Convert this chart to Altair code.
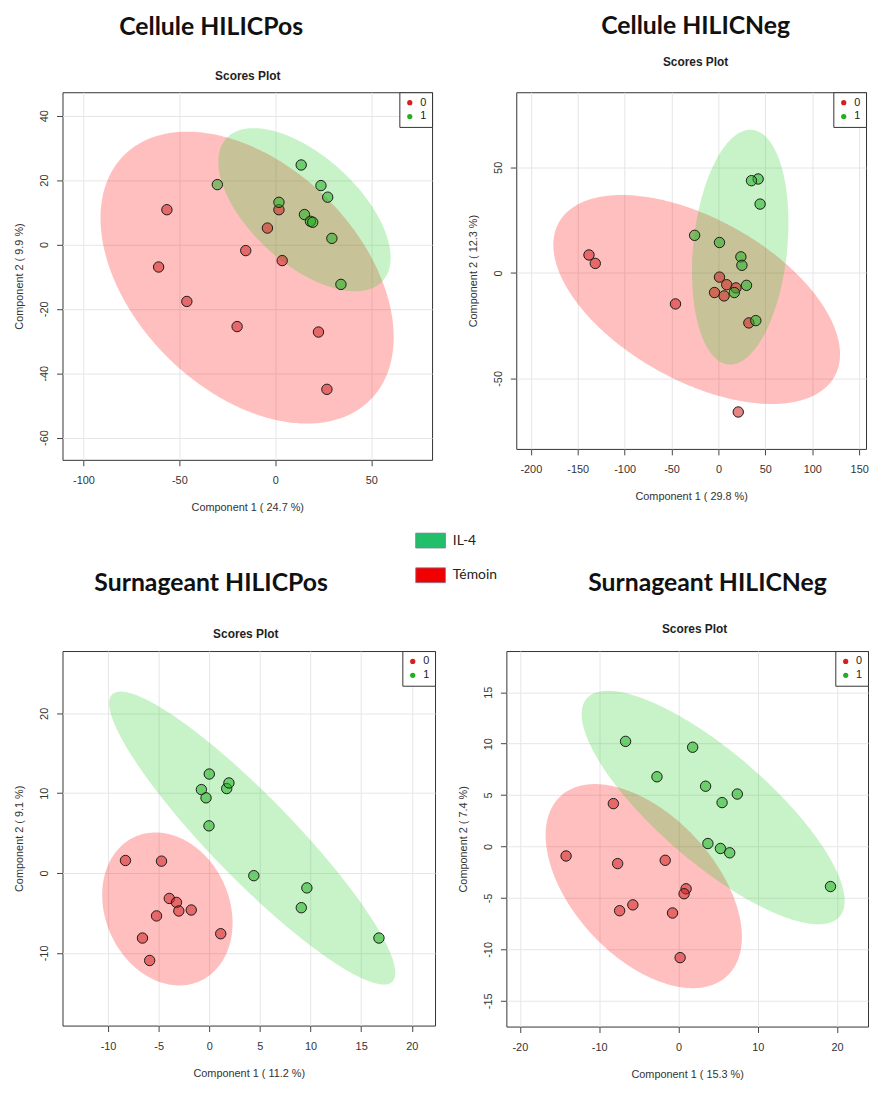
import altair as alt
import numpy as np
import pandas as pd

# ---------------- data ----------------
# Panel 1 : Cellule HILICPos
p1_red_x = [-56.5, -60.8, -46.1, -15.4, -19.9, -4.1, 1.9, 3.6, 22.5, 26.9]
p1_red_y = [10.8, -7.0, -17.7, -1.9, -25.5, 5.1, 10.8, -5.0, -27.2, -45.0]
p1_green_x = [-30.2, 1.9, 13.5, 23.8, 27.3, 15.2, 18.3, 19.5, 29.5, 34.2]
p1_green_y = [18.6, 13.1, 24.7, 18.3, 14.7, 9.3, 7.2, 6.9, 1.9, -12.4]
# ellipse: centre x, centre y, half x-extent, y-offset of rightmost point, half vertical chord
p1_ell_red = [-14.7, -10.3, 76.4, -18.5, 41.4]
p1_ell_green = [15.2, 10.8, 44.9, -14.9, 20.5]

# Panel 2 : Cellule HILICNeg
p2_red_x = [-138.0, -131.3, -45.8, 1.1, 8.8, -4.2, 6.0, 18.7, 32.4, 21.1]
p2_red_y = [8.5, 4.5, -14.7, -2.0, -5.6, -9.3, -10.9, -7.1, -23.7, -65.9]
p2_green_x = [42.3, 35.2, 44.4, -25.4, 1.1, 23.9, 25.0, 29.9, 16.9, 39.8]
p2_green_y = [44.5, 43.7, 32.6, 17.8, 14.4, 7.6, 3.6, -5.9, -9.3, -22.6]
p2_ell_red = [-23.2, -12.6, 152.8, -25.9, 42.2]
p2_ell_green = [23.2, 12.2, 51.4, 11.6, 54.4]

# Panel 3 : Surnageant HILICPos
p3_red_x = [-8.28, -4.72, -3.95, -3.24, -3.01, -1.78, -5.21, -6.60, -5.89, 1.13]
p3_red_y = [1.57, 1.49, -3.18, -3.68, -4.75, -4.63, -5.37, -8.14, -10.95, -7.60]
p3_green_x = [0.0, -0.78, -0.32, 1.72, 1.94, -0.03, 4.40, 9.64, 9.09, 16.76]
p3_green_y = [12.4, 10.45, 9.42, 10.58, 11.28, 5.91, -0.33, -1.86, -4.34, -8.14]
p3_ell_red = [-4.14, -4.50, 6.44, -1.74, 9.42]
p3_ell_green = [4.24, 4.38, 14.13, -16.86, 7.23]

# Panel 4 : Surnageant HILICNeg
p4_red_x = [-14.17, -8.21, -7.67, -1.67, 0.96, 0.71, -5.75, -7.42, -0.75, 0.21]
p4_red_y = [-0.92, 4.17, -1.66, -1.34, -4.11, -4.59, -5.67, -6.24, -6.46, -10.80]
p4_green_x = [-6.67, 1.79, -2.71, 3.42, 7.42, 5.50, 3.71, 5.29, 6.46, 19.17]
p4_green_y = [10.22, 9.65, 6.78, 5.86, 5.10, 4.27, 0.29, -0.19, -0.61, -3.89]
p4_ell_red = [-4.375, -3.85, 12.375, -4.94, 8.6]
p4_ell_green = [4.375, 3.79, 16.58, -9.08, 6.8]

panel_titles = ["Cellule HILICPos", "Cellule HILICNeg", "Surnageant HILICPos", "Surnageant HILICNeg"]
x_titles = ["Component 1 ( 24.7 %)", "Component 1 ( 29.8 %)", "Component 1 ( 11.2 %)", "Component 1 ( 15.3 %)"]
y_titles = ["Component 2 ( 9.9 %)", "Component 2 ( 12.3 %)", "Component 2 ( 9.1 %)", "Component 2 ( 7.4 %)"]
x_ticks = [[-100, -50, 0, 50], [-200, -150, -100, -50, 0, 50, 100, 150],
           [-10, -5, 0, 5, 10, 15, 20], [-20, -10, 0, 10, 20]]
y_ticks = [[-60, -40, -20, 0, 20, 40], [-50, 0, 50],
           [-10, 0, 10, 20], [-15, -10, -5, 0, 5, 10, 15]]
x_domains = [[-110.9, 81.7], [-215.5, 157.3], [-14.5, 22.3], [-21.7, 23.9]]
y_domains = [[-66.9, 47.3], [-83.4, 85.6], [-19.1, 27.8], [-17.5, 19.0]]

group_labels = ["0", "1"]
group_colors = ["#D42020", "#22B022"]
legend_labels = ["IL-4", "Témoin"]
legend_colors = ["#22BF6B", "#F00000"]

# ---------------- helpers ----------------
AX_FONT = "Liberation Sans"


def ellipse_df(p, n=200):
    cx, cy, w, s, h = p
    t = np.linspace(0, np.pi, n)
    c, si = np.cos(t), np.sin(t)
    return pd.DataFrame({"x": cx + w * c, "y": cy + s * c - h * si, "y2": cy + s * c + h * si})


def panel(i, rx, ry, gx, gy, ell_r, ell_g, w, h, title_xy, sub_xy, extra=None):
    pts = pd.DataFrame({"x": rx + gx, "y": ry + gy,
                        "grp": [group_labels[0]] * len(rx) + [group_labels[1]] * len(gx)})
    X = alt.X("x:Q", scale=alt.Scale(domain=x_domains[i], zero=False, nice=False),
              axis=alt.Axis(values=x_ticks[i], title=x_titles[i], grid=True, gridColor="#e6e6e6",
                            domain=False, tickSize=6, tickColor="#444", labelPadding=9,
                            labelFont=AX_FONT, labelFontSize=11, labelColor="#333",
                            labelExpr="'' + datum.value",
                            titleFont=AX_FONT, titleFontSize=11, titleFontWeight="normal",
                            titleColor="#333", titlePadding=16))
    Y = alt.Y("y:Q", scale=alt.Scale(domain=y_domains[i], zero=False, nice=False),
              axis=alt.Axis(values=y_ticks[i], title=y_titles[i], grid=True, gridColor="#e6e6e6",
                            domain=False, tickSize=6, tickColor="#444", labelPadding=7,
                            labelAngle=270, labelAlign="center", labelBaseline="bottom",
                            labelFont=AX_FONT, labelFontSize=11, labelColor="#333",
                            labelExpr="'' + datum.value",
                            titleFont=AX_FONT, titleFontSize=11, titleFontWeight="normal",
                            titleColor="#333", titlePadding=14))
    e_red = alt.Chart(ellipse_df(ell_r)).mark_area(color="#FF0000", opacity=0.25, clip=True).encode(
        x=X, y=Y, y2="y2:Q")
    e_green = alt.Chart(ellipse_df(ell_g)).mark_area(color="#22CC22", opacity=0.25, clip=True).encode(
        x=X, y=Y, y2="y2:Q")
    points = alt.Chart(pts).mark_circle(size=110, stroke="#1a1a1a", strokeWidth=1, fillOpacity=0.55,
                                        opacity=1).encode(
        x=X, y=Y,
        fill=alt.Fill("grp:N", scale=alt.Scale(domain=group_labels, range=group_colors),
                      legend=alt.Legend(orient="top-right", offset=0, title=None, strokeColor="#333",
                                        fillColor="white", padding=5, rowPadding=2, symbolSize=28,
                                        symbolType="circle", symbolStrokeWidth=0, symbolOpacity=1,
                                        labelFont=AX_FONT, labelFontSize=11, labelColor="#222",
                                        labelOffset=5, cornerRadius=0)))
    big = alt.Chart(pd.DataFrame({"t": [panel_titles[i]]})).mark_text(
        font="Lato", fontWeight="bold", fontSize=25, color="#111", align="center", baseline="middle").encode(
        text="t:N", x=alt.value(title_xy[0]), y=alt.value(title_xy[1]))
    sub = alt.Chart(pd.DataFrame({"t": ["Scores Plot"]})).mark_text(
        font=AX_FONT, fontWeight="bold", fontSize=12, color="#222", align="center", baseline="middle").encode(
        text="t:N", x=alt.value(sub_xy[0]), y=alt.value(sub_xy[1]))
    layers = [e_red, e_green, points, big, sub]
    if extra is not None:
        layers.append(extra)
    return alt.layer(*layers).resolve_scale(color="independent", fill="independent").properties(
        width=w, height=h)


# central legend (IL-4 / Témoin), attached to panel 3
center_legend = alt.Chart(pd.DataFrame({"lab": legend_labels})).mark_square(opacity=0, size=1).encode(
    color=alt.Color("lab:N", scale=alt.Scale(domain=legend_labels, range=legend_colors),
                    legend=alt.Legend(orient="none", legendX=356, legendY=-127, title=None,
                                      symbolType="M-1,-0.5H1V0.5H-1Z", symbolSize=900,
                                      symbolOpacity=1, symbolStrokeWidth=0.8,
                                      symbolStrokeColor="#7a7a90",
                                      labelFont="Lato", labelFontSize=14, labelColor="#222",
                                      labelOffset=7, rowPadding=10)))

p1 = panel(0, p1_red_x, p1_red_y, p1_green_x, p1_green_y, p1_ell_red, p1_ell_green,
           373, 371, (150, -66), (187, -16))
p2 = panel(1, p2_red_x, p2_red_y, p2_green_x, p2_green_y, p2_ell_red, p2_ell_green,
           353, 360, (181, -67), (181, -30))
p3 = panel(2, p3_red_x, p3_red_y, p3_green_x, p3_green_y, p3_ell_red, p3_ell_green,
           376, 378, (150, -69), (185, -17), extra=center_legend)
p4 = panel(3, p4_red_x, p4_red_y, p4_green_x, p4_green_y, p4_ell_red, p4_ell_green,
           365, 379, (203, -69), (190, -22))

row1 = alt.hconcat(p1, p2, spacing=85, bounds="flush").resolve_scale(
    x="independent", y="independent", fill="independent", color="independent").resolve_legend(
    fill="independent", color="independent")
row2 = alt.hconcat(p3, p4, spacing=72, bounds="flush").resolve_scale(
    x="independent", y="independent", fill="independent", color="independent").resolve_legend(
    fill="independent", color="independent")

chart = alt.vconcat(row1, row2, spacing=564, bounds="flush").resolve_scale(
    x="independent", y="independent", fill="independent", color="independent").resolve_legend(
    fill="independent", color="independent").properties(
    padding={"left": 5, "top": 0, "right": 0, "bottom": 4}, background="white"
).configure_view(stroke="#333", strokeWidth=1)

chart.save("out.html", embed_options={"renderer": "svg", "actions": False})
